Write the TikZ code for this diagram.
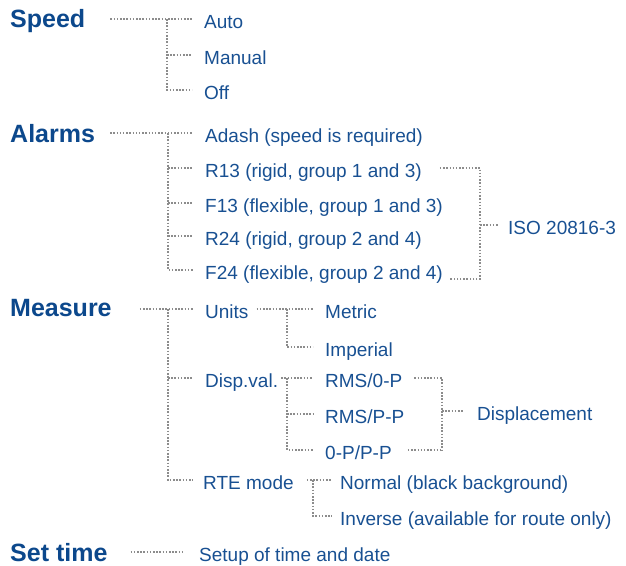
\documentclass[tikz,border=0pt]{standalone}
\usepackage{fontspec}
\setmainfont{Liberation Sans}
\usepackage{tikz}
\definecolor{hdrblue}{RGB}{12,72,140}
\definecolor{itemblue}{RGB}{24,80,146}
\definecolor{dotgray}{RGB}{140,140,140}
\tikzset{
    hdr/.style={
        anchor=base west,
        inner sep=0pt,
        text=hdrblue, % dark blue headings
        font=\bfseries\fontsize{25pt}{30pt}\selectfont
    },
    item/.style={
        anchor=base west,
        inner sep=0pt,
        text height=18pt, % center sits 9pt above the baseline
        text depth=0pt,
        text=itemblue,
        font=\fontsize{19pt}{23pt}\selectfont
    },
    dots/.style={
        draw=dotgray,
        line width=1.7pt,
        dash pattern=on 1.5pt off 1.7pt
    }
}
\begin{document}
\begin{tikzpicture}[x=1pt, y=-1pt]
    \useasboundingbox (0,0) rectangle (626,565);
    % bus columns
    \coordinate (spbus) at (167,0);
    \coordinate (albus) at (168,0);
    \coordinate (isobus) at (480,0);
    \coordinate (mebus) at (168,0);
    \coordinate (unbus) at (287,0);
    \coordinate (dibus) at (442,0);
    \coordinate (rtebus) at (313,0);

    % Speed
    \node[hdr] (speed) at (10,27) {Speed};
    \node[item] (spauto) at (204,28) {Auto};
    \node[item] (spmanual) at (204,64) {Manual};
    \node[item] (spoff) at (204,99) {Off};
    \draw[dots, shorten >=12pt] ([xshift=25pt]speed.east |- spauto.west) -- (spauto.west);
    \draw[dots, shorten >=12pt] (spbus |- spauto.west) |- (spoff.west);
    \draw[dots, shorten >=12pt] (spbus |- spmanual.west) -- (spmanual.west);

    % Alarms
    \node[hdr] (alarms) at (10,142) {Alarms};
    \node[item] (adash) at (205,142) {Adash (speed is required)};
    \node[item] (r13) at (205,177) {R13 (rigid, group 1 and 3)};
    \node[item] (f13) at (205,212) {F13 (flexible, group 1 and 3)};
    \node[item] (r24) at (205,245) {R24 (rigid, group 2 and 4)};
    \node[item] (f24) at (205,279) {F24 (flexible, group 2 and 4)};
    \node[item] (iso) at (508,234) {ISO 20816-3};
    \draw[dots, shorten >=12pt] ([xshift=15pt]alarms.east |- adash.west) -- (adash.west);
    \draw[dots, shorten >=12pt] (albus |- adash.west) |- (f24.west);
    \foreach \n in {r13, f13, r24}
        \draw[dots, shorten >=12pt] (albus |- \n.west) -- (\n.west);
    \draw[dots, shorten <=18pt] (r13.east) -| (isobus |- f24.base) -- ([xshift=6pt]f24.base east);
    \draw[dots, shorten >=9pt] (isobus |- iso.west) -- (iso.west);

    % Measure
    \node[hdr] (measure) at (10,316) {Measure};
    \node[item] (units) at (205,318) {Units};
    \node[item] (metric) at (325,318) {Metric};
    \node[item] (imperial) at (325,356) {Imperial};
    \node[item] (dispval) at (205,387) {Disp.val.};
    \node[item] (rmszp) at (325,387) {RMS/0-P};
    \node[item] (rmspp) at (325,423) {RMS/P-P};
    \node[item] (zppp) at (325,459) {0-P/P-P};
    \node[item] (displ) at (477,420) {Displacement};
    \node[item] (rte) at (203,489) {RTE mode};
    \node[item] (normal) at (340,489) {Normal (black background)};
    \node[item] (inverse) at (340,525) {Inverse (available for route only)};
    \draw[dots, shorten >=12pt] ([xshift=28pt]measure.east |- units.west) -- (units.west);
    \draw[dots, shorten >=10pt] (mebus |- units.west) |- (rte.west);
    \draw[dots, shorten >=12pt] (mebus |- dispval.west) -- (dispval.west);
    % units and display values
    \draw[dots, shorten <=8pt, shorten >=12pt] (units.east) -- (metric.west);
    \draw[dots, shorten >=12pt] (unbus |- units.west) |- (imperial.west);
    \draw[dots, shorten <=3pt, shorten >=12pt] (dispval.east) -- (rmszp.west);
    \draw[dots, shorten >=12pt] (unbus |- dispval.west) |- (zppp.west);
    \draw[dots, shorten >=12pt] (unbus |- rmspp.west) -- (rmspp.west);
    \draw[dots, shorten <=12pt] (rmszp.east) -| (dibus |- zppp.west);
    \draw[dots, shorten <=16pt] (zppp.east) -- (dibus |- zppp.west);
    \draw[dots, shorten >=14pt] (dibus |- displ.west) -- (displ.west);
    % RTE mode
    \draw[dots, shorten <=13pt, shorten >=8pt] (rte.east) -- (normal.west);
    \draw[dots, shorten >=8pt] (rtebus |- normal.west) |- (inverse.west);

    % Set time
    \node[hdr] (settime) at (10,561) {Set time};
    \node[item] (setup) at (199,561) {Setup of time and date};
    \draw[dots, shorten >=16pt] ([xshift=23pt]settime.east |- setup.west) -- (setup.west);
\end{tikzpicture}
\end{document}
